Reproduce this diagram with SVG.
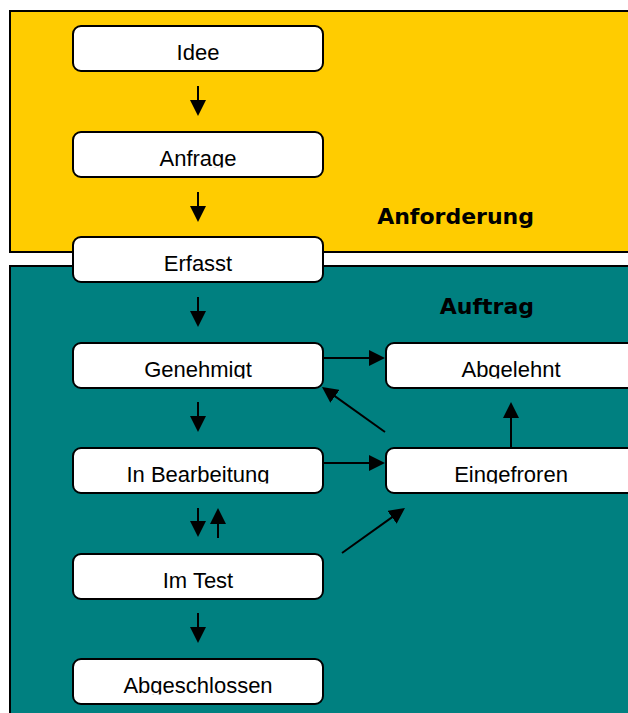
<svg xmlns="http://www.w3.org/2000/svg" width="628" height="713" viewBox="0 0 628 713">
<style>
.panel{stroke:#000;stroke-width:2}
.box{fill:#fff;stroke:#000;stroke-width:2}
.lbl{font-family:"Liberation Sans",Arial,sans-serif;font-size:22px;fill:#000;text-anchor:middle}
.title{font-family:"DejaVu Sans",Verdana,sans-serif;font-weight:bold;font-size:22px;fill:#000;text-anchor:end}
.conn line{stroke:#000;stroke-width:2;marker-end:url(#ah)}
</style>
<defs>
<marker id="ah" viewBox="0 0 16 16" refX="8" refY="8" markerWidth="16" markerHeight="16" markerUnits="userSpaceOnUse" orient="auto">
<path d="M0,0 L16,8 L0,16 z" fill="#000"/>
</marker>
<clipPath id="c1"><rect x="60" y="26" width="280" height="35.5"/></clipPath>
<clipPath id="c2"><rect x="60" y="132" width="280" height="35.5"/></clipPath>
<clipPath id="c3"><rect x="60" y="237" width="280" height="35.5"/></clipPath>
<clipPath id="c4"><rect x="60" y="343" width="280" height="35.5"/></clipPath>
<clipPath id="c5"><rect x="60" y="448" width="280" height="35.5"/></clipPath>
<clipPath id="c6"><rect x="60" y="554" width="280" height="35.5"/></clipPath>
<clipPath id="c7"><rect x="60" y="659" width="280" height="35.5"/></clipPath>
<clipPath id="c8"><rect x="380" y="343" width="260" height="35.5"/></clipPath>
<clipPath id="c9"><rect x="380" y="448" width="260" height="35.5"/></clipPath>
</defs>
<rect width="628" height="713" fill="#fff"/>
<g id="anforderung">
<rect class="panel" x="10" y="11" width="640" height="241" fill="#FFCC00"/>
<text class="title" x="534" y="224">Anforderung</text>
</g>
<g id="auftrag">
<rect class="panel" x="10" y="266" width="640" height="470" fill="#008080"/>
<text class="title" x="534" y="314">Auftrag</text>
</g>
<g class="conn" id="connectors">
<line x1="198" y1="86" x2="198" y2="108"/>
<line x1="198" y1="192" x2="198" y2="214"/>
<line x1="198" y1="297" x2="198" y2="319"/>
<line x1="198" y1="402" x2="198" y2="424"/>
<line x1="198" y1="508" x2="198" y2="529"/>
<line x1="218" y1="538" x2="218" y2="516"/>
<line x1="198" y1="613" x2="198" y2="635"/>
<line x1="323" y1="358" x2="377" y2="358"/>
<line x1="323" y1="463" x2="377" y2="463"/>
<line x1="511" y1="448" x2="511" y2="410"/>
<line x1="385" y1="432" x2="328.5" y2="391.6"/>
<line x1="342" y1="553" x2="398.5" y2="512.6"/>
</g>
<g id="idee"><rect class="box" x="73" y="26" width="250" height="45" rx="8"/><text class="lbl" x="198" y="60" clip-path="url(#c1)">Idee</text></g>
<g id="anfrage"><rect class="box" x="73" y="132" width="250" height="45" rx="8"/><text class="lbl" x="198" y="166" clip-path="url(#c2)">Anfrage</text></g>
<g id="erfasst"><rect class="box" x="73" y="237" width="250" height="45" rx="8"/><text class="lbl" x="198" y="271" clip-path="url(#c3)">Erfasst</text></g>
<g id="genehmigt"><rect class="box" x="73" y="343" width="250" height="45" rx="8"/><text class="lbl" x="198" y="377" clip-path="url(#c4)">Genehmigt</text></g>
<g id="inbearbeitung"><rect class="box" x="73" y="448" width="250" height="45" rx="8"/><text class="lbl" x="198" y="482" clip-path="url(#c5)">In Bearbeitung</text></g>
<g id="imtest"><rect class="box" x="73" y="554" width="250" height="45" rx="8"/><text class="lbl" x="198" y="588" clip-path="url(#c6)">Im Test</text></g>
<g id="abgeschlossen"><rect class="box" x="73" y="659" width="250" height="45" rx="8"/><text class="lbl" x="198" y="693" clip-path="url(#c7)">Abgeschlossen</text></g>
<g id="abgelehnt"><rect class="box" x="386" y="343" width="250" height="45" rx="8"/><text class="lbl" x="511" y="377" clip-path="url(#c8)">Abgelehnt</text></g>
<g id="eingefroren"><rect class="box" x="386" y="448" width="250" height="45" rx="8"/><text class="lbl" x="511" y="482" clip-path="url(#c9)">Eingefroren</text></g>
</svg>
